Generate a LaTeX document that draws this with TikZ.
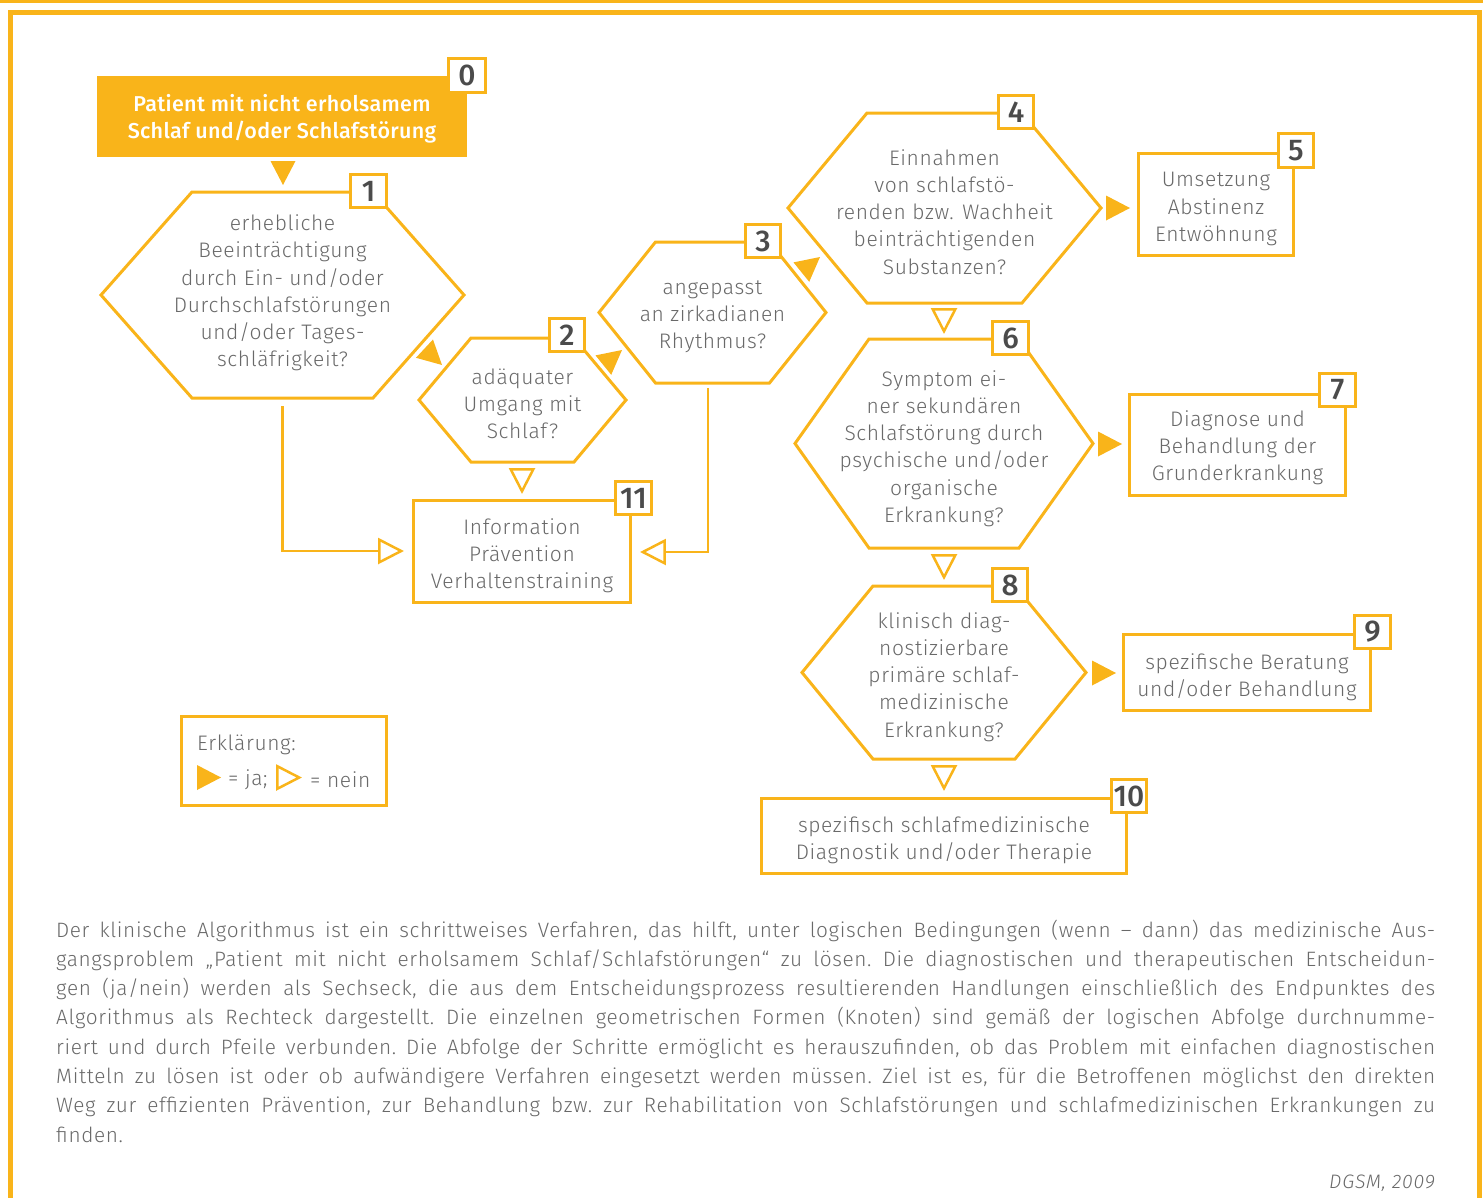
\documentclass[tikz,border=0pt]{standalone}
\usepackage{fontspec}
\setmainfont{Fira Sans}[UprightFont={* Light}, ItalicFont={* Light Italic}, BoldFont={* Medium}]
\usetikzlibrary{calc}
\definecolor{dgsm}{RGB}{249,180,26}
\definecolor{txtgray}{RGB}{105,105,105}
\definecolor{numgray}{RGB}{75,75,75}
\tikzset{
  hexline/.style={draw=dgsm, line width=3pt, line join=miter},
  rectbox/.style={draw=dgsm, line width=3pt, inner sep=0pt, fill=white},
  numbox/.style={draw=dgsm, line width=3pt, fill=white, inner sep=0pt, minimum width=35.5pt, minimum height=33.5pt, text=numgray, font=\fontsize{30}{30}\bfseries\selectfont},
  txt/.style={text=txtgray, font=\fontsize{21}{27.2}\selectfont\addfontfeatures{LetterSpace=3}, align=center, inner sep=0pt},
  capline/.style={text=txtgray, font=\frenchspacing\fontsize{20.8}{29.3}\selectfont\addfontfeatures{LetterSpace=3}, inner sep=0pt, anchor=base west},
  conn/.style={draw=dgsm, line width=2.5pt},
}
\newcommand{\hexa}[6]{%
  \coordinate (#1-l) at ({#2-#4-#5},#3);
  \coordinate (#1-r) at ({#2+#4+#5},#3);
  \coordinate (#1-tl) at ({#2-#4},{#3-#6});
  \coordinate (#1-tr) at ({#2+#4},{#3-#6});
  \coordinate (#1-bl) at ({#2-#4},{#3+#6});
  \coordinate (#1-br) at ({#2+#4},{#3+#6});
  \coordinate (#1-b) at (#2,{#3+#6});
  \draw[hexline] (#1-l)--(#1-tl)--(#1-tr)--(#1-r)--(#1-br)--(#1-bl)--cycle;
}
% filled (ja) arrow: tip at #1, canvas angle #2
\newcommand{\jaarrow}[2]{\fill[dgsm, shift={(#1)}, rotate=#2] (0,0) -- (-24,12.5) -- (-24,-12.5) -- cycle;}
% open (nein) arrow
\newcommand{\neinarrow}[2]{\draw[dgsm, line width=2.5pt, fill=white, shift={(#1)}, rotate=#2] (-2.8,0) -- (-24.7,11.3) -- (-24.7,-11.3) -- cycle;}
\begin{document}
\begin{tikzpicture}[x=1pt,y=-1pt]
\useasboundingbox (0,0) rectangle (1483,1197);
% frame
\draw[dgsm, line width=3.5pt] (0,1.5) -- (1483,1.5);
\draw[dgsm, line width=5pt] (10.5,1210) -- (10.5,12.5) -- (1479.5,12.5) -- (1479.5,1210);

% start box 0
\node[fill=dgsm, minimum width=370pt, minimum height=81pt, inner sep=0pt] (b0) at (282,116.5) {};
\node[text=white, font=\fontsize{21.5}{27.2}\bfseries\selectfont\addfontfeatures{LetterSpace=1.5}, align=center, inner sep=0pt] (t0) at (282,119) {Patient mit nicht erholsamem\\Schlaf und/oder Schlafstörung};

% hexagons
\hexa{h1}{282.5}{295}{90.5}{91}{103}
\hexa{h2}{522.5}{400}{51.5}{52}{62}
\hexa{h3}{712.5}{312.5}{57}{56.5}{70.5}
\hexa{h4}{944.5}{208}{77.5}{79}{95}
\hexa{h6}{944}{443.5}{75}{74}{104.5}
\hexa{h8}{944}{672.5}{71}{71}{86.5}

\node[txt] (t1) at (282.5,293) {erhebliche\\Beeinträchtigung\\durch Ein- und/oder\\Durchschlafstörungen\\und/oder Tages-\\schläfrigkeit?};
\node[txt] (t2) at (522.5,404) {adäquater\\Umgang mit\\Schlaf?};
\node[txt] (t3) at (712.5,317) {angepasst\\an zirkadianen\\Rhythmus?};
\node[txt] (t4) at (944.5,212) {Einnahmen\\von schlafstö-\\renden bzw. Wachheit\\beinträchtigenden\\Substanzen?};
\node[txt] (t6) at (944,448.5) {Symptom ei-\\ner sekundären\\Schlafstörung durch\\psychische und/oder\\organische\\Erkrankung?};
\node[txt] (t8) at (944,677) {klinisch diag-\\nostizierbare\\primäre schlaf-\\medizinische\\Erkrankung?};

% rectangles
\node[rectbox, minimum width=155pt, minimum height=102pt] (b5) at (1216,204.5) {};
\node[rectbox, minimum width=216pt, minimum height=101pt] (b7) at (1237.5,445) {};
\node[rectbox, minimum width=247pt, minimum height=76pt] (b9) at (1247,672.5) {};
\node[rectbox, minimum width=365pt, minimum height=75pt] (b10) at (944,836) {};
\node[rectbox, minimum width=217pt, minimum height=102pt] (b11) at (522,551.5) {};
\node[rectbox, minimum width=205pt, minimum height=89pt] (leg) at (284,761) {};

\node[txt] (t5) at (1216,209) {Umsetzung\\Abstinenz\\Entwöhnung};
\node[txt] (t7) at (1237.5,448) {Diagnose und\\Behandlung der\\Grunderkrankung};
\node[txt] (t9) at (1247,677.5) {spezifische Beratung\\und/oder Behandlung};
\node[txt] (t10) at (944,840.5) {spezifisch schlafmedizinische\\Diagnostik und/oder Therapie};
\node[txt] (t11) at (522,556) {Information\\Prävention\\Verhaltenstraining};

% number boxes
\node[numbox, minimum width=37pt, minimum height=34pt] (n0) at (467,75.5) {0};
\node[numbox] (n1) at (368.5,191) {1};
\node[numbox] (n2) at (567,335) {2};
\node[numbox] (n3) at (763,241) {3};
\node[numbox] (n4) at (1016,112) {4};
\node[numbox] (n5) at (1296,150.5) {5};
\node[numbox] (n6) at (1010.5,338) {6};
\node[numbox] (n7) at (1337.5,390) {7};
\node[numbox] (n8) at (1010,585) {8};
\node[numbox] (n9) at (1372.5,632) {9};
\node[numbox] (n10) at (1129,796) {10};
\node[numbox] (n11) at (633.5,498) {11};

% connectors with lines
\coordinate (a1) at (404,551);
\coordinate (a3) at (640,552);
\draw[conn] ($(h1-b)+(0,8)$) |- ($(a1)+(-26,0)$);
\draw[conn] (708,388) |- ($(a3)+(26,0)$);
\neinarrow{a1}{0}
\neinarrow{a3}{180}

% ja arrows
\jaarrow{283,185}{-90}
\jaarrow{442,365}{-43}
\jaarrow{622,350}{39}
\jaarrow{820,257}{39}
\jaarrow{1130,208}{0}
\jaarrow{1122,444}{0}
\jaarrow{1116,673}{0}

% nein arrows
\neinarrow{522,494}{-90}
\neinarrow{944,334}{-90}
\neinarrow{944,580}{-90}
\neinarrow{944,791}{-90}

% legend
\node[txt, anchor=west] (le) at (197,745) {Erklärung:};
\jaarrow{221,777.5}{0}
\node[txt, anchor=west] (lja) at (228,780) {= ja;};
\neinarrow{302,777.5}{0}
\node[txt, anchor=west] (lnein) at (310,780) {= nein};

% caption
\node[capline] (c1) at (56,937) {\makebox[1379pt][s]{Der klinische Algorithmus ist ein schrittweises Verfahren, das hilft, unter logischen Bedingungen (wenn – dann) das medizinische Aus-}};
\node[capline] (c2) at (56,966.3) {\makebox[1379pt][s]{gangsproblem „Patient mit nicht erholsamem Schlaf/Schlafstörungen“ zu lösen. Die diagnostischen und therapeutischen Entscheidun-}};
\node[capline] (c3) at (56,995.6) {\makebox[1379pt][s]{gen (ja/nein) werden als Sechseck, die aus dem Entscheidungsprozess resultierenden Handlungen einschließlich des Endpunktes des}};
\node[capline] (c4) at (56,1024.9) {\makebox[1379pt][s]{Algorithmus als Rechteck dargestellt. Die einzelnen geometrischen Formen (Knoten) sind gemäß der logischen Abfolge durchnumme-}};
\node[capline] (c5) at (56,1054.2) {\makebox[1379pt][s]{riert und durch Pfeile verbunden. Die Abfolge der Schritte ermöglicht es herauszufinden, ob das Problem mit einfachen diagnostischen}};
\node[capline] (c6) at (56,1083.5) {\makebox[1379pt][s]{Mitteln zu lösen ist oder ob aufwändigere Verfahren eingesetzt werden müssen. Ziel ist es, für die Betroffenen möglichst den direkten}};
\node[capline] (c7) at (56,1112.8) {\makebox[1379pt][s]{Weg zur effizienten Prävention, zur Behandlung bzw. zur Rehabilitation von Schlafstörungen und schlafmedizinischen Erkrankungen zu}};
\node[capline] (c8) at (56,1142.1) {finden.};
\node[text=txtgray, font=\fontsize{19.5}{22}\itshape\selectfont\addfontfeatures{LetterSpace=4}, inner sep=0pt, anchor=base east] (src) at (1435,1188) {DGSM, 2009};
\end{tikzpicture}
\end{document}
